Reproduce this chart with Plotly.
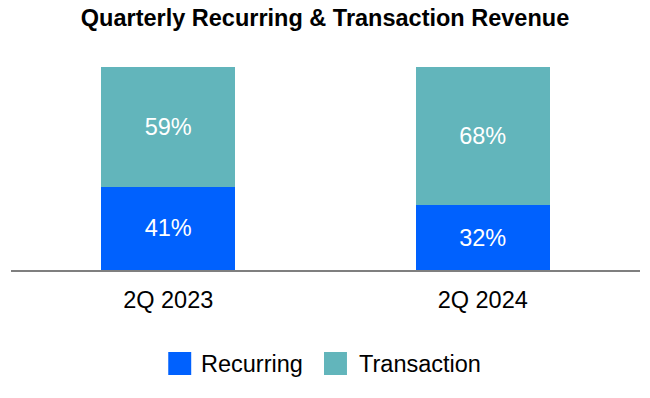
import plotly.graph_objects as go

categories = ["2Q 2023", "2Q 2024"]
recurring = [41, 32]
transaction = [59, 68]
series_names = ["Recurring", "Transaction"]
colors = ["#0061FE", "#62B5BB"]

W, H = 650, 398
L, R, T, B = 10.5, 9.5, 67, 128
FONT = "Liberation Sans, Arial, sans-serif"

fig = go.Figure()
for name, vals, col in zip(series_names, [recurring, transaction], colors):
    fig.add_trace(go.Bar(
        x=categories, y=vals, name=name, marker=dict(color=col, line=dict(width=0)),
        text=[f"{v}%" for v in vals], textposition="inside", insidetextanchor="middle",
        textfont=dict(color="white", size=23.5, family=FONT),
        hoverinfo="skip", showlegend=False,
    ))

# custom legend (larger swatches like the reference)
pw, ph = W - L - R, H - T - B
def px_x(x):
    return (x - L) / pw
def px_y(y):
    return (H - B - y) / ph

legend_items = [(168, 199), (324, 357)]  # swatch left, text left (px)
sw = 23
ly = 363.5
for (sx, tx), name, col in zip(legend_items, series_names, colors):
    fig.add_shape(type="rect", xref="paper", yref="paper",
                  x0=px_x(sx), x1=px_x(sx + sw), y0=px_y(ly + sw / 2), y1=px_y(ly - sw / 2),
                  fillcolor=col, line=dict(width=0))
    fig.add_annotation(xref="paper", yref="paper", x=px_x(tx), y=px_y(ly),
                       xanchor="left", yanchor="middle", text=name, showarrow=False,
                       font=dict(size=23.5, color="black", family=FONT))

fig.update_layout(
    barmode="stack",
    bargap=0.575,
    width=W, height=H,
    margin=dict(l=L, r=R, t=T, b=B, autoexpand=False),
    paper_bgcolor="white", plot_bgcolor="white",
    font=dict(family=FONT, color="black"),
    title=dict(text="<b>Quarterly Recurring & Transaction Revenue</b>", x=0.5,
               xanchor="center", y=1 - 18 / H, yanchor="middle",
               font=dict(size=23.5, color="black")),
    xaxis=dict(showline=True, linecolor="#7f7f7f", linewidth=2, ticks="", tickfont=dict(size=23.5),
               showgrid=False, automargin=False, ticklabelstandoff=8),
    yaxis=dict(range=[0, 100], visible=False, showgrid=False, automargin=False),
    showlegend=False,
    hovermode=False,
    uniformtext=dict(minsize=8, mode=False),
)
fig.write_html("out.html", config={"displayModeBar": False, "staticPlot": True},
               post_script="document.body.style.margin='0';")
